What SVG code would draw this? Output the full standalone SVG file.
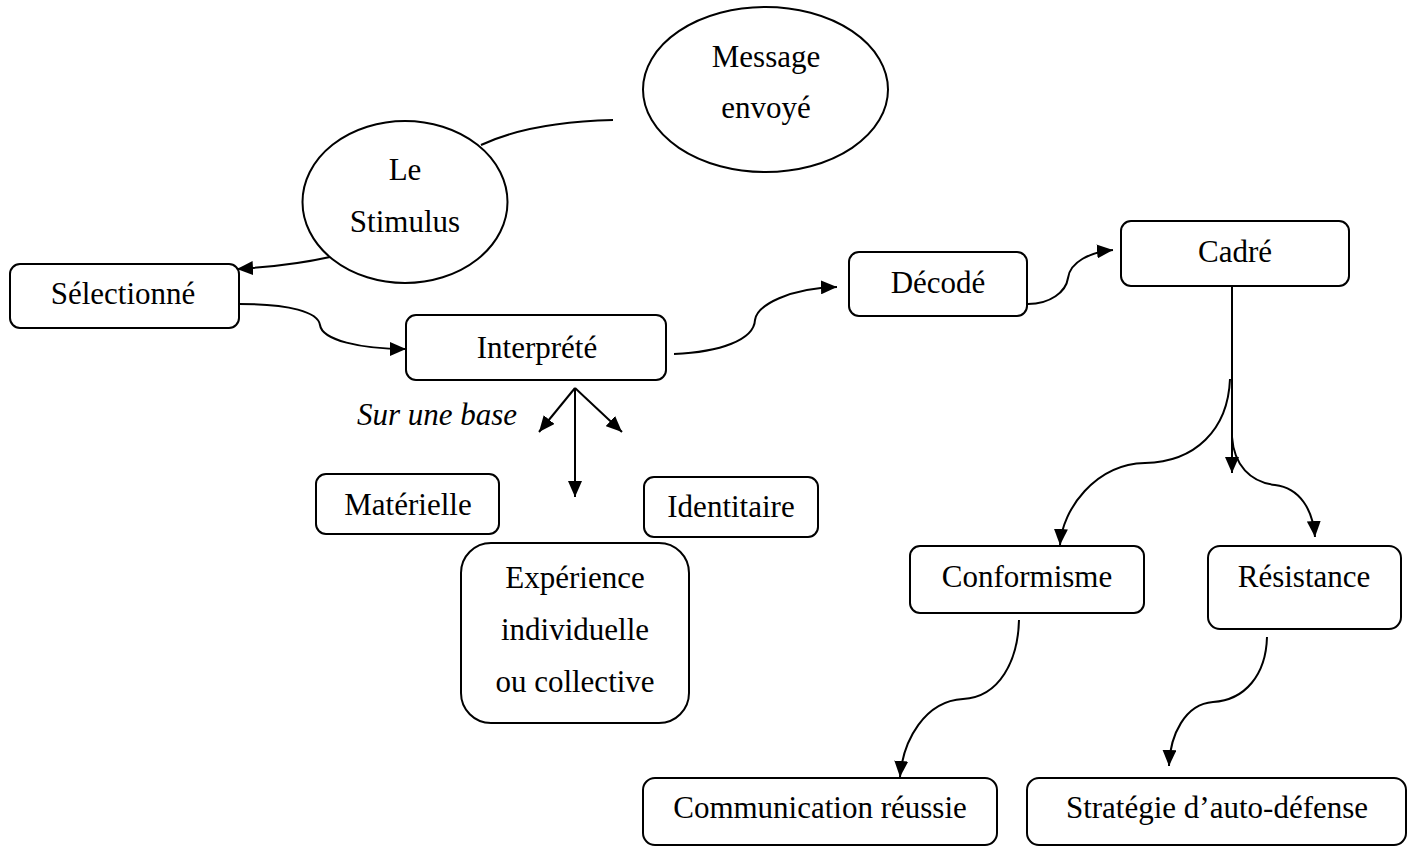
<svg xmlns="http://www.w3.org/2000/svg" width="1413" height="846" viewBox="0 0 1413 846">
<defs>
<marker id="ah" markerUnits="userSpaceOnUse" markerWidth="16" markerHeight="14" refX="16" refY="7" orient="auto">
<path d="M0,0 L16,7 L0,14 z" fill="#000"/>
</marker>
<style>
.box{fill:#fff;stroke:#000;stroke-width:2}
.t{font-family:"Liberation Serif","Times New Roman",serif;font-size:31px;fill:#000;text-anchor:middle}
.it{font-style:italic}
.c{fill:none;stroke:#000;stroke-width:2}
.a{marker-end:url(#ah)}
</style>
</defs>
<rect width="1413" height="846" fill="#fff"/>
<g id="connectors">
<path class="c" d="M481,145 Q530,122 613,120"/>
<path class="c a" d="M330,257 Q290,266 237,269"/>
<path class="c a" d="M239,304 C290,304 318,312 320,325 C322,340 360,349 406,349"/>
<path class="c a" d="M674,354 C720,352 754,340 755,320 C757,305 790,288 837,287"/>
<path class="c a" d="M1028,304 C1050,304 1066,292 1068,278 C1070,262 1090,252 1113,250"/>
<path class="c a" d="M1232,286 L1232,473"/>
<path class="c a" d="M1230,379 C1228,430 1195,462 1145,463 C1095,464 1062,510 1060,545"/>
<path class="c a" d="M1232,437 C1234,465 1250,482 1275,485 C1300,488 1313,510 1315,537"/>
<path class="c a" d="M1019,620 C1018,660 1000,697 963,699 C925,701 903,740 900,777"/>
<path class="c a" d="M1267,637 C1266,675 1245,700 1213,702 C1185,704 1170,735 1169,766"/>
<path class="c a" d="M575,388 L575,497"/>
<path class="c a" d="M575,388 L539,432"/>
<path class="c a" d="M575,388 L622,432"/>
</g>
<g id="message">
<ellipse class="box" cx="765.5" cy="89.5" rx="122.5" ry="82.5"/>
<text class="t" x="766" y="67">Message</text>
<text class="t" x="766" y="118">envoyé</text>
</g>
<g id="stimulus">
<ellipse class="box" cx="405" cy="202" rx="102.5" ry="81"/>
<text class="t" x="405" y="180">Le</text>
<text class="t" x="405" y="232">Stimulus</text>
</g>
<g id="selectionne">
<rect class="box" x="10" y="264" width="229" height="64" rx="10"/>
<text class="t" x="123" y="304">Sélectionné</text>
</g>
<g id="interprete">
<rect class="box" x="406" y="315" width="260" height="65" rx="10"/>
<text class="t" x="537" y="358">Interprété</text>
</g>
<g id="decode">
<rect class="box" x="849" y="252" width="178" height="64" rx="10"/>
<text class="t" x="938" y="293">Décodé</text>
</g>
<g id="cadre">
<rect class="box" x="1121" y="221" width="228" height="65" rx="10"/>
<text class="t" x="1235" y="262">Cadré</text>
</g>
<g id="surunebase">
<text class="t it" x="437" y="425">Sur une base</text>
</g>
<g id="materielle">
<rect class="box" x="316" y="474" width="183" height="60" rx="10"/>
<text class="t" x="408" y="515">Matérielle</text>
</g>
<g id="identitaire">
<rect class="box" x="644" y="477" width="174" height="60" rx="10"/>
<text class="t" x="731" y="517">Identitaire</text>
</g>
<g id="experience">
<rect class="box" x="461" y="543" width="228" height="180" rx="30"/>
<text class="t" x="575" y="588">Expérience</text>
<text class="t" x="575" y="640">individuelle</text>
<text class="t" x="575" y="692">ou collective</text>
</g>
<g id="conformisme">
<rect class="box" x="910" y="546" width="234" height="67" rx="10"/>
<text class="t" x="1027" y="587">Conformisme</text>
</g>
<g id="resistance">
<rect class="box" x="1208" y="546" width="193" height="83" rx="12"/>
<text class="t" x="1304" y="587">Résistance</text>
</g>
<g id="communication">
<rect class="box" x="643" y="778" width="354" height="67" rx="12"/>
<text class="t" x="820" y="818">Communication réussie</text>
</g>
<g id="strategie">
<rect class="box" x="1027" y="778" width="379" height="67" rx="12"/>
<text class="t" x="1217" y="818">Stratégie d’auto-défense</text>
</g>
</svg>
